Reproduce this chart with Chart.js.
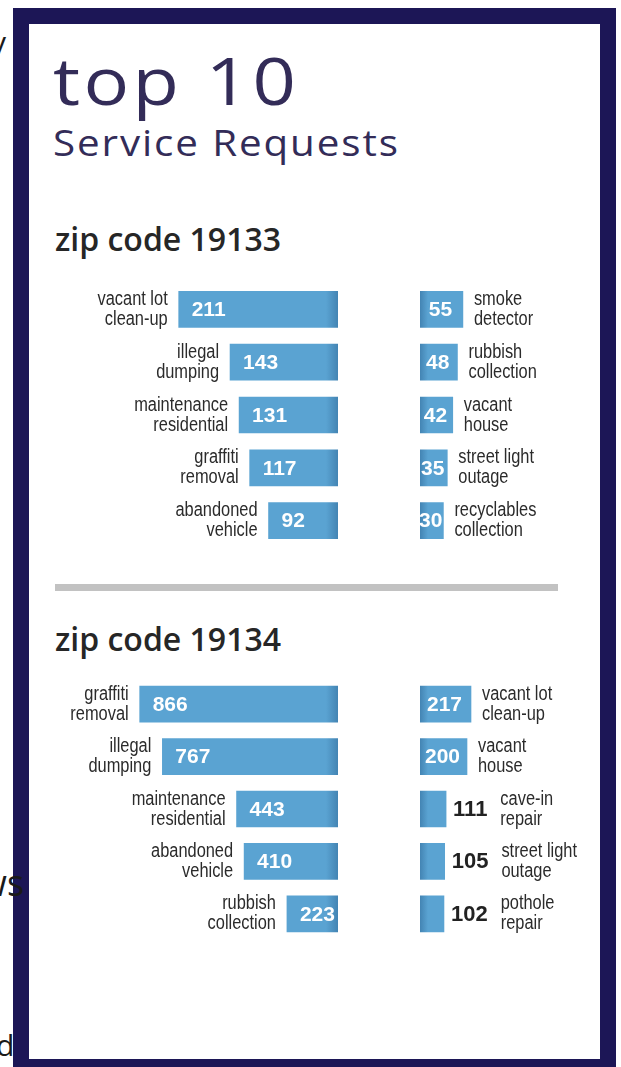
<!DOCTYPE html>
<html>
<head>
<meta charset="utf-8">
<script src="https://cdn.jsdelivr.net/npm/chart.js@4.4.0/dist/chart.umd.min.js"></script>
<style>
    body { margin: 0; width: 621px; height: 1067px; position: relative; overflow: hidden; background: #fff; font-family: "Open Sans", sans-serif; }
    .frame { position: absolute; left: 13px; top: 8px; width: 571px; height: 1035px; border: 16px solid #1c1656; }
    .stray { position: absolute; font-family: "Open Sans", sans-serif; color: #1a1a1a; }
    .title { position: absolute; left: 53px; top: 46px; font-size: 66px; line-height: 66px; color: #332c58; letter-spacing: 3px; transform: scaleX(1.15); transform-origin: left top; }
    .subtitle { position: absolute; left: 53px; top: 125px; font-size: 36px; line-height: 36px; color: #332c58; letter-spacing: 1.7px; transform: scaleX(1.12); transform-origin: left top; }
    .zip { position: absolute; left: 55px; font-size: 32px; line-height: 32px; font-weight: 600; color: #262626; }
    .divider { position: absolute; left: 55px; top: 584px; width: 503px; height: 7px; background: #c2c2c2; }
    canvas { position: absolute; }
</style>
</head>
<body>
<div class="frame"></div>
<div class="stray" style="left:-9px; top:27px; font-size:30px; line-height:30px;">y</div>
<div class="stray" style="left:-21px; top:865px; font-size:36px; line-height:36px;">ws</div>
<div class="stray" style="left:-4px; top:1030px; font-size:30px; line-height:30px;">d</div>

<div class="title">top 10</div>
<div class="subtitle">Service Requests</div>

<div class="zip" style="top:223px;">zip code 19133</div>
<canvas id="z33Left" width="298" height="264" style="left:40px; top:283px;"></canvas>
<canvas id="z33Right" width="181" height="264" style="left:420px; top:283px;"></canvas>

<div class="divider"></div>

<div class="zip" style="top:623px;">zip code 19134</div>
<canvas id="z34Left" width="298" height="262" style="left:40px; top:678px;"></canvas>
<canvas id="z34Right" width="181" height="262" style="left:420px; top:678px;"></canvas>

<script>
// top 10 service requests - two zip codes, two columns each

const z33LeftLabels = [['vacant lot', 'clean-up'], ['illegal', 'dumping'], ['maintenance', 'residential'], ['graffiti', 'removal'], ['abandoned', 'vehicle']];
const z33LeftValues = [211, 143, 131, 117, 92];
const z33RightLabels = [['smoke', 'detector'], ['rubbish', 'collection'], ['vacant', 'house'], ['street light', 'outage'], ['recyclables', 'collection']];
const z33RightValues = [55, 48, 42, 35, 30];

const z34LeftLabels = [['graffiti', 'removal'], ['illegal', 'dumping'], ['maintenance', 'residential'], ['abandoned', 'vehicle'], ['rubbish', 'collection']];
const z34LeftValues = [866, 767, 443, 410, 223];
const z34RightLabels = [['vacant lot', 'clean-up'], ['vacant', 'house'], ['cave-in', 'repair'], ['street light', 'outage'], ['pothole', 'repair']];
const z34RightValues = [217, 200, 111, 105, 102];

const BAR_BLUE = '#5aa3d2';
const FOLD_BLUE = '#4384b3';
const CAT_FONT = '20px "Liberation Sans", Arial, sans-serif';
const CAT_SQUEEZE = 0.82;   // narrow look for the category text
const VALUE_FONT = 'bold 21px "Liberation Sans", Arial, sans-serif';
const OUT_FONT = 'bold 22px "Liberation Sans", Arial, sans-serif';

// darker edge near the centre fold
function barFill(context, side) {
    const chart = context.chart;
    const area = chart.chartArea;
    if (!area) return BAR_BLUE;
    const w = area.right - area.left;
    const g = chart.ctx.createLinearGradient(area.left, 0, area.right, 0);
    if (side === 'left') {
        g.addColorStop(0, BAR_BLUE);
        g.addColorStop(1 - 12 / w, BAR_BLUE);
        g.addColorStop(1, FOLD_BLUE);
    } else {
        g.addColorStop(0, FOLD_BLUE);
        g.addColorStop(8 / w, BAR_BLUE);
        g.addColorStop(1, BAR_BLUE);
    }
    return g;
}

function squeezedText(ctx, text, x, y, align) {
    const w = ctx.measureText(text).width * CAT_SQUEEZE;
    const x0 = align === 'right' ? x - w : x;
    ctx.save();
    ctx.translate(x0, y);
    ctx.scale(CAT_SQUEEZE, 1);
    ctx.textAlign = 'left';
    ctx.fillText(text, 0, 0);
    ctx.restore();
}

const sideLabels = {
    id: 'sideLabels',
    afterDatasetsDraw(chart, args, opts) {
        const ctx = chart.ctx;
        const meta = chart.getDatasetMeta(0);
        const labels = chart.data.labels;
        const values = chart.data.datasets[0].data;
        ctx.save();
        ctx.textBaseline = 'middle';
        meta.data.forEach((bar, i) => {
            const y = bar.y;
            const lines = labels[i];
            const left = Math.min(bar.x, bar.base);
            const right = Math.max(bar.x, bar.base);
            const txt = String(values[i]);
            ctx.font = VALUE_FONT;
            const tw = ctx.measureText(txt).width;

            if (opts.side === 'left') {
                ctx.fillStyle = '#fff';
                ctx.textAlign = 'left';
                ctx.fillText(txt, left + 13, y + 1);
                ctx.font = CAT_FONT;
                ctx.fillStyle = '#2b2b2b';
                squeezedText(ctx, lines[0], left - 11, y - 10, 'right');
                squeezedText(ctx, lines[1], left - 11, y + 10, 'right');
            } else {
                let catX = right + 11;
                if (right - left >= tw * 0.85) {
                    ctx.fillStyle = '#fff';
                    ctx.textAlign = 'center';
                    ctx.fillText(txt, (left + right) / 2 - 1, y + 1);
                } else {
                    ctx.font = OUT_FONT;
                    ctx.fillStyle = '#222';
                    ctx.textAlign = 'left';
                    ctx.fillText(txt, right + 7, y + 1);
                    catX = right + 7 + ctx.measureText(txt).width + 13;
                }
                ctx.font = CAT_FONT;
                ctx.fillStyle = '#2b2b2b';
                squeezedText(ctx, lines[0], catX, y - 10, 'left');
                squeezedText(ctx, lines[1], catX, y + 10, 'left');
            }
        });
        ctx.restore();
    }
};

function makeChart(id, labels, values, side, pxPerUnit) {
    const canvas = document.getElementById(id);
    return new Chart(canvas, {
        type: 'bar',
        data: {
            labels: labels,
            datasets: [{
                data: values,
                backgroundColor: ctx => barFill(ctx, side),
                borderWidth: 0,
                barThickness: 36
            }]
        },
        options: {
            indexAxis: 'y',
            responsive: false,
            animation: false,
            layout: { padding: 0 },
            plugins: {
                legend: { display: false },
                tooltip: { enabled: false },
                sideLabels: { side: side }
            },
            scales: {
                x: { display: false, min: 0, max: canvas.width / pxPerUnit, reverse: side === 'left' },
                y: { display: false }
            }
        },
        plugins: [sideLabels]
    });
}

makeChart('z33Left', z33LeftLabels, z33LeftValues, 'left', 0.755);
makeChart('z33Right', z33RightLabels, z33RightValues, 'right', 0.78);
makeChart('z34Left', z34LeftLabels, z34LeftValues, 'left', 0.229);
makeChart('z34Right', z34RightLabels, z34RightValues, 'right', 0.235);
</script>
</body>
</html>
